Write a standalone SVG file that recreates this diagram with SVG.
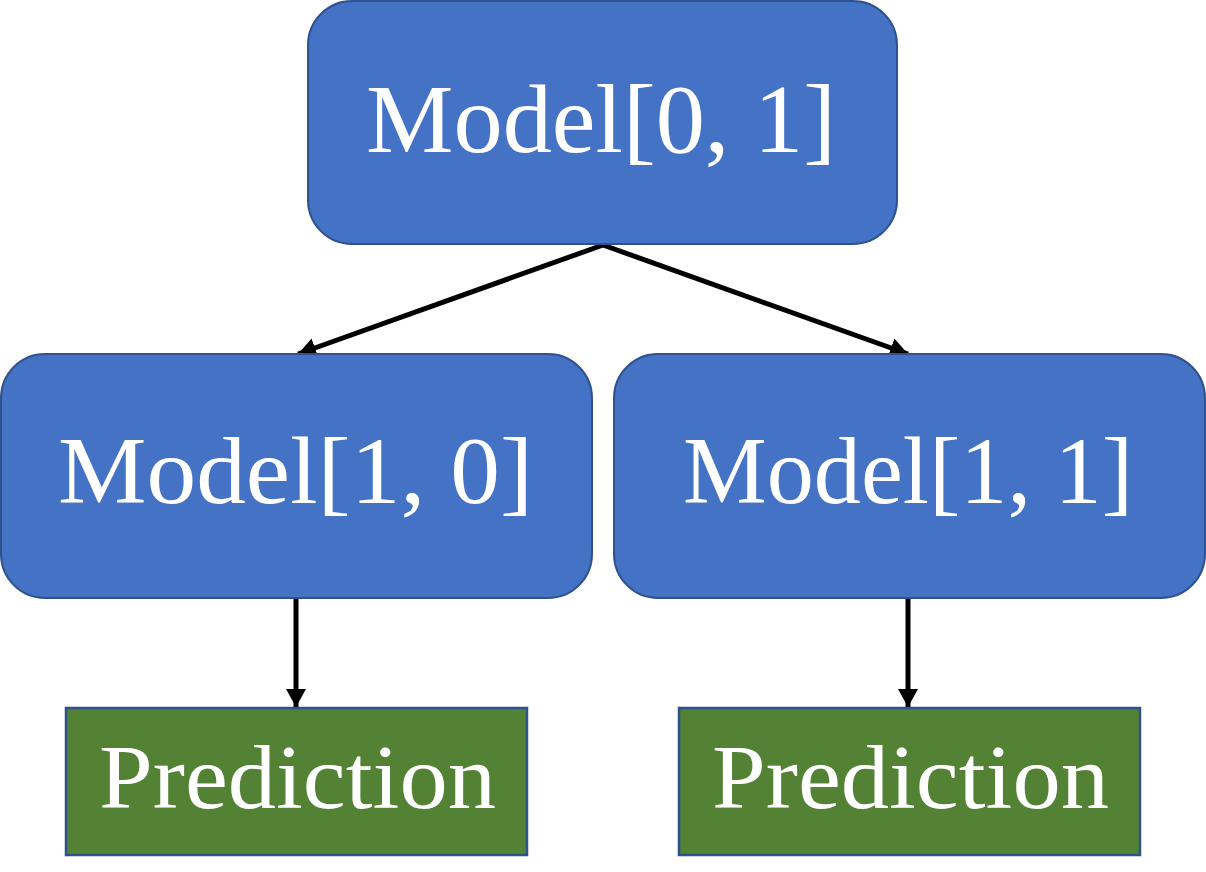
<svg xmlns="http://www.w3.org/2000/svg" width="1206" height="872" viewBox="0 0 1206 872">
<style>
.model{fill:#4472C4;stroke:#2F528F;stroke-width:2}
.pred{fill:#548235;stroke:#2F528F;stroke-width:2.5}
.lbl{font-family:"Liberation Serif","DejaVu Serif",serif;fill:#FFFFFF;text-anchor:start}
.conn{stroke:#000000;stroke-width:5;fill:none;marker-end:url(#ah)}
</style>
<defs>
<marker id="ah" markerUnits="userSpaceOnUse" markerWidth="22" markerHeight="22" refX="18" refY="10" orient="auto">
<path d="M0,0 L18,10 L0,20 Z" fill="#000000"/>
</marker>
</defs>
<rect width="1206" height="872" fill="#FFFFFF"/>
<g id="connectors">
<line class="conn" x1="603" y1="245" x2="298" y2="354"/>
<line class="conn" x1="603" y1="245" x2="908" y2="354"/>
<line class="conn" x1="296" y1="598" x2="296" y2="707"/>
<line class="conn" x1="908" y1="598" x2="908" y2="707"/>
</g>
<g id="model01">
<rect class="model" x="308" y="1" width="589" height="243" rx="44" ry="44"/>
<text class="lbl" x="366" y="152" font-size="98" textLength="470" lengthAdjust="spacingAndGlyphs">Model[0, 1]</text>
</g>
<g id="model10">
<rect class="model" x="1" y="354" width="591" height="244" rx="44" ry="44"/>
<text class="lbl" x="58" y="503" font-size="96" textLength="475" lengthAdjust="spacingAndGlyphs">Model[1, 0]</text>
</g>
<g id="model11">
<rect class="model" x="614" y="354" width="591" height="244" rx="44" ry="44"/>
<text class="lbl" x="683" y="503" font-size="96" textLength="450" lengthAdjust="spacingAndGlyphs">Model[1, 1]</text>
</g>
<g id="pred1">
<rect class="pred" x="66" y="708" width="461" height="147"/>
<text class="lbl" x="99" y="808" font-size="90" textLength="397" lengthAdjust="spacingAndGlyphs">Prediction</text>
</g>
<g id="pred2">
<rect class="pred" x="679" y="708" width="461" height="147"/>
<text class="lbl" x="712" y="808" font-size="90" textLength="397" lengthAdjust="spacingAndGlyphs">Prediction</text>
</g>
</svg>
